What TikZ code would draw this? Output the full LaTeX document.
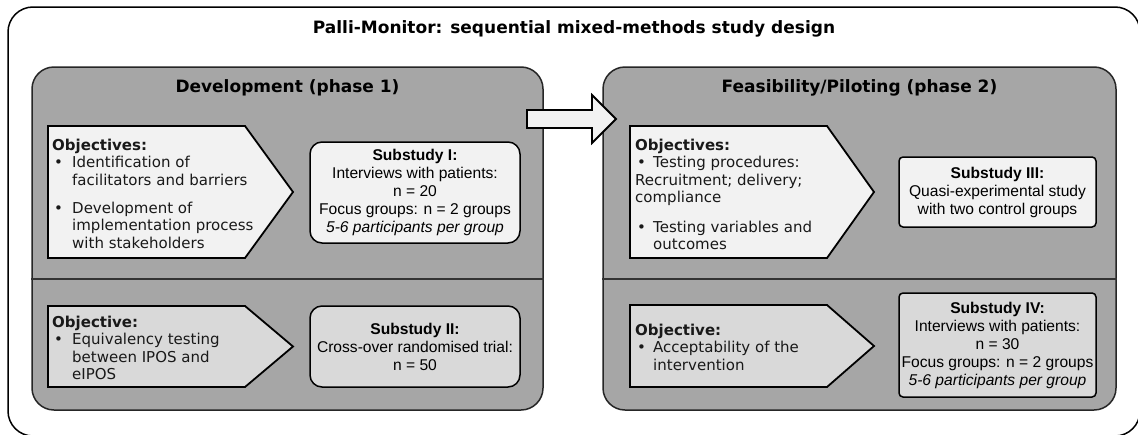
\documentclass[tikz,border=0pt]{standalone}
\usepackage{fontspec}
\setmainfont{DejaVu Sans}
\newfontfamily\arialfont{Liberation Sans}
\usepackage{xcolor}
\usepackage{tikz}

\definecolor{phasegray}{HTML}{A6A6A6}
\definecolor{lightfill}{HTML}{F2F2F2}
\definecolor{midfill}{HTML}{D9D9D9}

\newcommand{\objbullet}{\makebox[20pt][l]{\hspace{2pt}\textbullet}}
\newcommand{\objbulletr}{\makebox[18pt][l]{\hspace{2pt}\textbullet}}

\begin{document}
\begin{tikzpicture}[x=1pt,y=-1pt,
  frame/.style={draw=black,line width=1.5pt,fill=white,rounded corners=25pt},
  phase/.style={draw=black!85,line width=1.5pt,fill=phasegray,rounded corners=22pt},
  objup/.style={draw=black,line width=1.8pt,fill=lightfill},
  objlow/.style={draw=black,line width=1.8pt,fill=midfill},
  objtext/.style={anchor=north west,inner sep=0pt,align=left,text=black!90,font=\fontsize{15}{17.5}\selectfont},
  substudy/.style={draw=black,line width=1.5pt,align=center,inner sep=0pt,font=\arialfont\fontsize{15.6}{18}\selectfont},
  heading/.style={inner sep=0pt,font=\bfseries\fontsize{17}{20}\selectfont}]
\useasboundingbox (0,0) rectangle (1138,434);
\draw[frame] (8,7) rectangle (1140,436);
\node[heading] (title) at (574,29) {Palli-Monitor: sequential mixed-methods study design};

\node[phase,minimum width=511pt,minimum height=343pt] (devph) at (287.5,238.5) {};
\node[phase,minimum width=513pt,minimum height=343pt] (feaph) at (859.5,238.5) {};
\draw[line width=1.2pt,draw=black!80] (devph.west |- 0,279) -- (devph.east |- 0,279);
\draw[line width=1.2pt,draw=black!80] (feaph.west |- 0,279) -- (feaph.east |- 0,279);
\node[heading] (devhead) at (287.5,88) {Development (phase 1)};
\node[heading] (feahead) at (859.5,88) {Feasibility/Piloting (phase 2)};

\draw[line width=1.8pt,fill=lightfill] (527,110) -- (592,110) -- (592,95) -- (616,119)
  -- (592,143) -- (592,128) -- (527,128) -- cycle;

\draw[objup] (48,126) -- (245,126) -- (293,192) -- (245,258) -- (48,258) -- cycle;
\draw[objlow] (48,306) -- (245,306) -- (293,346.5) -- (245,387) -- (48,387) -- cycle;
\draw[objup] (630,126) -- (827,126) -- (874,192) -- (827,258) -- (630,258) -- cycle;
\draw[objlow] (630,305) -- (827,305) -- (874,346) -- (827,387) -- (630,387) -- cycle;

\node[objtext] (obj1) at (52,138.5) {\textbf{Objectives:}\\
  \objbullet Identification of\\
  \hspace*{20pt}facilitators and barriers\\[10.5pt]
  \objbullet Development of\\
  \hspace*{20pt}implementation process\\
  \hspace*{20pt}with stakeholders};
\node[objtext] (obj2) at (52,315.5) {\textbf{Objective:}\\
  \objbullet Equivalency testing\\
  \hspace*{20pt}between IPOS and\\
  \hspace*{20pt}eIPOS};
\node[objtext] (obj3) at (635,138.5) {\textbf{Objectives:}\\
  \objbulletr Testing procedures:\\
  Recruitment; delivery;\\
  compliance\\[12pt]
  \objbulletr Testing variables and\\
  \hspace*{18pt}outcomes};
\node[objtext] (obj4) at (635,323.5) {\textbf{Objective:}\\
  \objbulletr Acceptability of the\\
  \hspace*{18pt}intervention};

\node[substudy,fill=lightfill,rounded corners=12pt,minimum width=210pt,minimum height=101pt] (sub1) at (415,192.5)
  {\textbf{Substudy I:}\\ Interviews with patients:\\ n = 20\\ Focus groups: n = 2 groups\\ \textit{5-6 participants per group}};
\node[substudy,fill=midfill,rounded corners=12pt,minimum width=210pt,minimum height=81pt] (sub2) at (415,346.5)
  {\textbf{Substudy II:}\\ Cross-over randomised trial:\\ n = 50};
\node[substudy,fill=lightfill,rounded corners=4pt,minimum width=197pt,minimum height=70pt] (sub3) at (997.5,192)
  {\textbf{Substudy III:}\\ Quasi-experimental study\\ with two control groups};
\node[substudy,fill=midfill,rounded corners=4pt,minimum width=197pt,minimum height=104pt] (sub4) at (997.5,345)
  {\textbf{Substudy IV:}\\ Interviews with patients:\\ n = 30\\ Focus groups: n = 2 groups\\ \textit{5-6 participants per group}};
\end{tikzpicture}
\end{document}
